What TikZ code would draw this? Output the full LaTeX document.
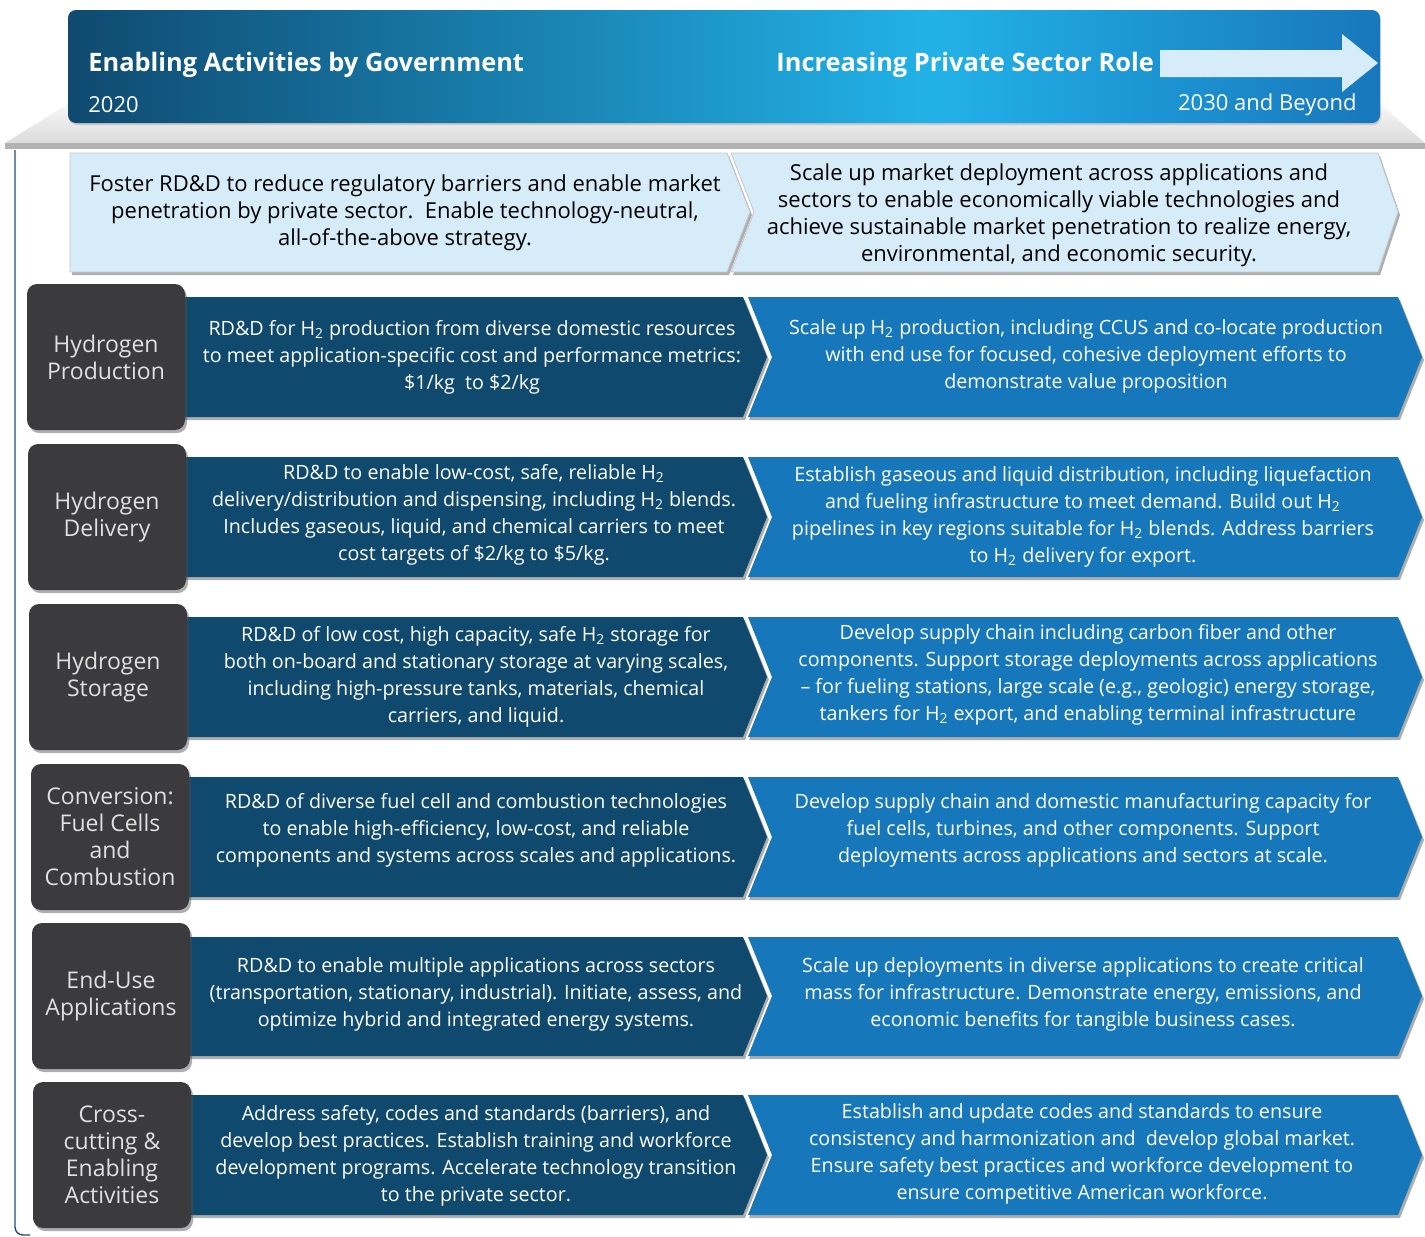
\documentclass[tikz,border=0pt]{standalone}
\usepackage{fontspec}
\setmainfont{Open Sans}
\usetikzlibrary{shadows}
\definecolor{navy}{HTML}{0F4A6E}
\definecolor{midblue}{HTML}{1678BB}
\definecolor{paleblue}{HTML}{D6EDF9}
\definecolor{slate}{HTML}{3B3B3D}
\definecolor{hdrA}{HTML}{0F4A70}
\definecolor{hdrB}{HTML}{22B2E8}
\definecolor{hdrC}{HTML}{1877BC}
\definecolor{rail}{HTML}{1F4E79}
\pgfdeclarehorizontalshading{hdrshade}{100bp}{color(0bp)=(hdrA); color(25bp)=(hdrA); color(58bp)=(hdrB); color(75bp)=(hdrC); color(100bp)=(hdrC)}
\tikzset{
  shad/.style={drop shadow={shadow xshift=1pt, shadow yshift=-1.5pt, opacity=0.45, fill=black!70}},
  catbox/.style={shad, fill=slate, rounded corners=5pt, minimum width=79pt, minimum height=73pt, text=white!88!black, align=center, font=\fontsize{11.5}{13.5}\selectfont, inner sep=0pt},
  govchev/.style={shad, fill=navy},
  privchev/.style={shad, fill=midblue},
  notch/.style={white, line width=0.8pt},
  topchev/.style={shad, fill=paleblue, draw=gray!45, line width=0.4pt},
  govtext/.style={text=white, align=center, inner sep=0pt, font=\fontsize{9.85}{13.5}\selectfont},
  toptext/.style={text=black, align=center, inner sep=0pt, font=\fontsize{11}{13.5}\selectfont},
  hdrbold/.style={text=white, inner sep=0pt, font=\fontsize{12.7}{14}\selectfont\bfseries},
  hdrplain/.style={text=white, inner sep=0pt, font=\fontsize{11}{13.5}\selectfont},
}

\begin{document}
\begin{tikzpicture}[x=0.5pt, y=-0.5pt]
  \useasboundingbox (0,0) rectangle (1425,1237);

  % banner and shelf
  \shade[top color=gray!6, bottom color=gray!28] (68,104) -- (1380,104) -- (1425,143) -- (5,143) -- cycle;
  \fill[gray!60] (5,143) rectangle (1425,149);
  \shade[shading=hdrshade, rounded corners=4pt, drop shadow={shadow xshift=0.5pt, shadow yshift=-1pt, opacity=0.3}] (68,10) rectangle (1380,123);
  \fill[paleblue] (1160,50) -- (1342,50) -- (1342,34) -- (1378,63) -- (1342,92) -- (1342,77) -- (1160,77) -- cycle;
  \node[hdrbold, anchor=west] (govtitle) at (88,65) {Enabling Activities by Government};
  \node[hdrplain, anchor=west] (govyear) at (88,105) {2020};
  \node[hdrbold, anchor=west] (privtitle) at (776,65) {Increasing Private Sector Role};
  \node[hdrplain, anchor=east] (privyear) at (1357,105) {2030 and Beyond};

  % left rail
  \draw[rail, line width=0.7pt, rounded corners=4pt] (15,150) -- (15,1235) -- (30,1235);

  % top row
  \path[topchev] (70,153) -- (727,153) -- (750,212) -- (727,272) -- (70,272) -- cycle;
  \path[topchev] (731,153) -- (1378,153) -- (1398,212) -- (1378,272) -- (731,272) -- (754,212) -- cycle;
  \node[toptext] (govaim) at (405,213) {Foster RD\&D to reduce regulatory barriers and enable market\\penetration by private sector.\ \ Enable technology-neutral,\\all-of-the-above strategy.};
  \node[toptext] (privaim) at (1059,215) {Scale up market deployment across applications and\\sectors to enable economically viable technologies and\\achieve sustainable market penetration to realize energy,\\environmental, and economic security.};

  % hydrogen production
  \path[govchev] (100,297) -- (743,297) -- (767,357) -- (743,417) -- (100,417) -- cycle;
  \path[privchev] (747,297) -- (1398,297) -- (1422,357) -- (1398,417) -- (747,417) -- (771,357) -- cycle;
  \draw[notch] (747,297) -- (771,357) -- (747,417);
  \node[catbox] (prod) at (106,357) {Hydrogen\\Production};
  \node[govtext] (prodgov) at (472,357) {RD\&D for H\textsubscript{2} production from diverse domestic resources\\to meet application-specific cost and performance metrics:\\\$1/kg\ \ to \$2/kg};
  \node[govtext] (prodpriv) at (1086,356) {Scale up H\textsubscript{2} production, including CCUS and co-locate production\\with end use for focused, cohesive deployment efforts to\\demonstrate value proposition};

  % hydrogen delivery
  \path[govchev] (100,457) -- (743,457) -- (767,517) -- (743,577) -- (100,577) -- cycle;
  \path[privchev] (747,457) -- (1398,457) -- (1422,517) -- (1398,577) -- (747,577) -- (771,517) -- cycle;
  \draw[notch] (747,457) -- (771,517) -- (747,577);
  \node[catbox] (deliv) at (107,517) {Hydrogen\\Delivery};
  \node[govtext] (delivgov) at (474,515) {RD\&D to enable low-cost, safe, reliable H\textsubscript{2}\\delivery/distribution and dispensing, including H\textsubscript{2} blends.\\Includes gaseous, liquid, and chemical carriers to meet\\cost targets of \$2/kg to \$5/kg.};
  \node[govtext] (delivpriv) at (1083,517) {Establish gaseous and liquid distribution, including liquefaction\\and fueling infrastructure to meet demand. Build out H\textsubscript{2}\\pipelines in key regions suitable for H\textsubscript{2} blends. Address barriers\\to H\textsubscript{2} delivery for export.};

  % hydrogen storage
  \path[govchev] (100,617) -- (743,617) -- (767,677) -- (743,737) -- (100,737) -- cycle;
  \path[privchev] (747,617) -- (1398,617) -- (1422,677) -- (1398,737) -- (747,737) -- (771,677) -- cycle;
  \draw[notch] (747,617) -- (771,677) -- (747,737);
  \node[catbox] (stor) at (108,677) {Hydrogen\\Storage};
  \node[govtext] (storgov) at (476,677) {RD\&D of low cost, high capacity, safe H\textsubscript{2} storage for\\both on-board and stationary storage at varying scales,\\including high-pressure tanks, materials, chemical\\carriers, and liquid.};
  \node[govtext] (storpriv) at (1088,675) {Develop supply chain including carbon fiber and other\\components. Support storage deployments across applications\\-- for fueling stations, large scale (e.g., geologic) energy storage,\\tankers for H\textsubscript{2} export, and enabling terminal infrastructure};

  % conversion
  \path[govchev] (100,777) -- (743,777) -- (767,837) -- (743,897) -- (100,897) -- cycle;
  \path[privchev] (747,777) -- (1398,777) -- (1422,837) -- (1398,897) -- (747,897) -- (771,837) -- cycle;
  \draw[notch] (747,777) -- (771,837) -- (747,897);
  \node[catbox] (conv) at (110,837) {Conversion:\\Fuel Cells\\and\\Combustion};
  \node[govtext] (convgov) at (476,830) {RD\&D of diverse fuel cell and combustion technologies\\to enable high-efficiency, low-cost, and reliable\\components and systems across scales and applications.};
  \node[govtext] (convpriv) at (1083,830) {Develop supply chain and domestic manufacturing capacity for\\fuel cells, turbines, and other components. Support\\deployments across applications and sectors at scale.};

  % end use
  \path[govchev] (100,937) -- (743,937) -- (767,996) -- (743,1056) -- (100,1056) -- cycle;
  \path[privchev] (747,937) -- (1398,937) -- (1422,996) -- (1398,1056) -- (747,1056) -- (771,996) -- cycle;
  \draw[notch] (747,937) -- (771,996) -- (747,1056);
  \node[catbox] (enduse) at (111,996) {End-Use\\Applications};
  \node[govtext] (endusegov) at (476,994) {RD\&D to enable multiple applications across sectors\\(transportation, stationary, industrial). Initiate, assess, and\\optimize hybrid and integrated energy systems.};
  \node[govtext] (endusepriv) at (1083,994) {Scale up deployments in diverse applications to create critical\\mass for infrastructure. Demonstrate energy, emissions, and\\economic benefits for tangible business cases.};

  % cross-cutting
  \path[govchev] (100,1095) -- (743,1095) -- (767,1155) -- (743,1215) -- (100,1215) -- cycle;
  \path[privchev] (747,1095) -- (1398,1095) -- (1422,1155) -- (1398,1215) -- (747,1215) -- (771,1155) -- cycle;
  \draw[notch] (747,1095) -- (771,1155) -- (747,1215);
  \node[catbox] (cross) at (112,1155) {Cross-\\cutting \&\\Enabling\\Activities};
  \node[govtext] (crossgov) at (476,1156) {Address safety, codes and standards (barriers), and\\develop best practices. Establish training and workforce\\development programs. Accelerate technology transition\\to the private sector.};
  \node[govtext] (crosspriv) at (1082,1154) {Establish and update codes and standards to ensure\\consistency and harmonization and\ \ develop global market.\\Ensure safety best practices and workforce development to\\ensure competitive American workforce.};
\end{tikzpicture}
\end{document}
